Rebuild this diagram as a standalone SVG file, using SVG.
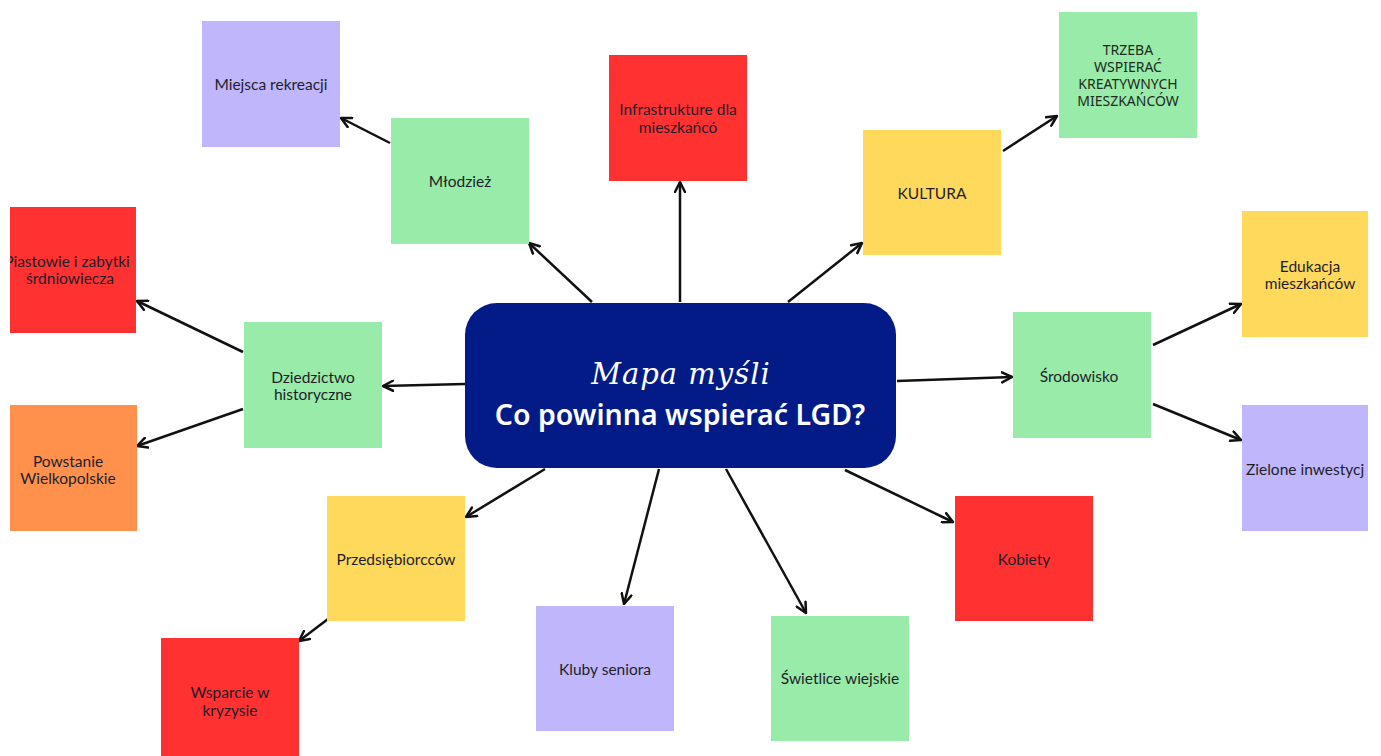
<svg xmlns="http://www.w3.org/2000/svg" width="1381" height="756" viewBox="0 0 1381 756">
<defs>
<marker id="arr" viewBox="0 0 10 10" refX="9" refY="5" markerWidth="5" markerHeight="5" orient="auto" markerUnits="strokeWidth">
<path d="M1,1 L9,5 L1,9" fill="none" stroke="#111" stroke-width="2" stroke-linecap="round" stroke-linejoin="round"/>
</marker>
<clipPath id="clipPiast"><rect x="10" y="207" width="126" height="126"/></clipPath>
<clipPath id="clipZiel"><rect x="1242" y="405" width="126" height="126"/></clipPath>
<style>
.box{stroke:none}
.g{fill:#98eba8}.r{fill:#ff3131}.y{fill:#ffd95c}.p{fill:#c0b6fc}.o{fill:#ff914d}
.t{font-family:Lato,"Noto Sans","DejaVu Sans",sans-serif;font-size:15.5px;fill:#1e1e2a;text-anchor:middle}
.u{font-family:"Noto Sans","DejaVu Sans",sans-serif;font-size:14px;fill:#1e2a22;text-anchor:middle}
.c line{stroke:#111;stroke-width:2.5;fill:none;marker-end:url(#arr)}
</style>
</defs>
<rect width="1381" height="756" fill="#ffffff"/>

<g class="c" id="connectors">
<line x1="592" y1="302" x2="529" y2="243"/>
<line x1="680" y1="302" x2="680" y2="182"/>
<line x1="788" y1="302" x2="862" y2="243"/>
<line x1="1003" y1="151" x2="1057" y2="116"/>
<line x1="897" y1="381" x2="1012" y2="377"/>
<line x1="1153" y1="345" x2="1241" y2="304"/>
<line x1="1153" y1="404" x2="1241" y2="440"/>
<line x1="845" y1="470" x2="953" y2="522"/>
<line x1="726" y1="469" x2="806" y2="613"/>
<line x1="659" y1="469" x2="624" y2="604"/>
<line x1="545" y1="469" x2="466" y2="517"/>
<line x1="328" y1="619" x2="299" y2="641"/>
<line x1="465" y1="384" x2="383" y2="386"/>
<line x1="243" y1="352" x2="137" y2="301"/>
<line x1="243" y1="409" x2="137" y2="446"/>
<line x1="390" y1="143" x2="341" y2="118"/>
</g>

<g id="center">
<rect x="465" y="303" width="431" height="165" rx="32" fill="#021b87"/>
<text x="681" y="384" font-family="'DejaVu Serif',serif" font-style="italic" font-size="29" fill="#ffffff" text-anchor="middle" letter-spacing="1">Mapa myśli</text>
<text x="680" y="425" font-family="'Noto Sans','DejaVu Sans',sans-serif" font-weight="600" font-size="28.5" fill="#ffffff" text-anchor="middle">Co powinna wspierać LGD?</text>
</g>

<g id="miejsca"><rect class="box p" x="202" y="21" width="138" height="126"/><text class="t" x="271" y="90">Miejsca rekreacji</text></g>
<g id="mlodziez"><rect class="box g" x="391" y="118" width="138" height="126"/><text class="t" x="460" y="187">Młodzież</text></g>
<g id="infra"><rect class="box r" x="609" y="55" width="138" height="126"/><text class="t" x="678" y="115">Infrastrukture dla</text><text class="t" x="678" y="133">mieszkańcó</text></g>
<g id="kultura"><rect class="box y" x="863" y="130" width="138" height="125"/><text class="t" x="932" y="199">KULTURA</text></g>
<g id="trzeba"><rect class="box g" x="1059" y="12" width="138" height="126"/>
<text class="u" x="1128" y="55">TRZEBA</text><text class="u" x="1128" y="72">WSPIERAĆ</text><text class="u" x="1128" y="89">KREATYWNYCH</text><text class="u" x="1128" y="106">MIESZKAŃCÓW</text></g>
<g id="edukacja"><rect class="box y" x="1242" y="211" width="126" height="126"/><text class="t" x="1310" y="272">Edukacja</text><text class="t" x="1310" y="289">mieszkańców</text></g>
<g id="srodowisko"><rect class="box g" x="1013" y="312" width="138" height="126"/><text class="t" x="1079" y="382">Środowisko</text></g>
<g id="zielone"><rect class="box p" x="1242" y="405" width="126" height="126"/><g clip-path="url(#clipZiel)"><text class="t" x="1246" y="475" style="text-anchor:start">Zielone inwestycj</text></g></g>
<g id="kobiety"><rect class="box r" x="955" y="496" width="138" height="125"/><text class="t" x="1024" y="565">Kobiety</text></g>
<g id="swietlice"><rect class="box g" x="771" y="616" width="138" height="125"/><text class="t" x="840" y="684">Świetlice wiejskie</text></g>
<g id="kluby"><rect class="box p" x="536" y="606" width="138" height="125"/><text class="t" x="605" y="675">Kluby seniora</text></g>
<g id="przeds"><rect class="box y" x="327" y="496" width="138" height="125"/><text class="t" x="396" y="565">Przedsiębiorcców</text></g>
<g id="wsparcie"><rect class="box r" x="161" y="638" width="138" height="118"/><text class="t" x="230" y="698">Wsparcie w</text><text class="t" x="230" y="716">kryzysie</text></g>
<g id="dziedzictwo"><rect class="box g" x="244" y="322" width="138" height="126"/><text class="t" x="313" y="383">Dziedzictwo</text><text class="t" x="313" y="400">historyczne</text></g>
<g id="piastowie"><rect class="box r" x="10" y="207" width="126" height="126"/><g clip-path="url(#clipPiast)"><text class="t" x="67" y="267">Piastowie i zabytki</text><text class="t" x="70" y="284">śrdniowiecza</text></g></g>
<g id="powstanie"><rect class="box o" x="10" y="405" width="127" height="126"/><text class="t" x="68" y="467">Powstanie</text><text class="t" x="68" y="484">Wielkopolskie</text></g>
</svg>
